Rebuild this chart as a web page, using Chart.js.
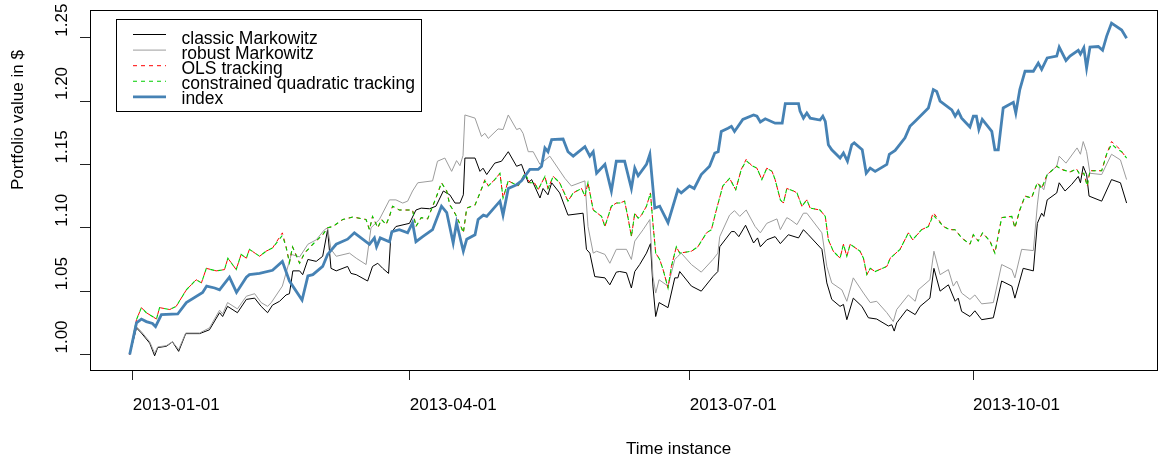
<!DOCTYPE html>
<html><head><meta charset="utf-8">
<script src="https://cdn.jsdelivr.net/npm/chart.js@4.4.1/dist/chart.umd.min.js"></script>
<style>html,body{margin:0;padding:0;background:#fff;}canvas{display:block;}</style>
</head><body>
<canvas id="c" width="1159" height="457"></canvas>
<script>
// ---- axis ticks / labels ----
const tickDays = [0, 90, 181, 273];               // days since 2013-01-01
const tickLabels = ['2013-01-01', '2013-04-01', '2013-07-01', '2013-10-01'];
const yTickValues = [1.00, 1.05, 1.10, 1.15, 1.20, 1.25];
const yTickLabels = ['1.00', '1.05', '1.10', '1.15', '1.20', '1.25'];
const xTitle = 'Time instance';
const yTitle = 'Portfolio value in $';
const seriesNames = ['classic Markowitz', 'robust Markowitz', 'OLS tracking', 'constrained quadratic tracking', 'index'];

// ---- index (days since 2013-01-01) ----
const indexDays = [
 -1, 1.2, 2.8, 4.4, 6.4, 7.4, 9.3, 14.6, 17.4, 22.7,
 24.0, 26.6, 28.2, 31.4, 33.7, 36.9, 37.9, 41.2, 45.4, 48.6,
 50.9, 55.0, 56.9, 58.5, 61.7, 63.3, 66.1, 69.8, 72.0, 76.9,
 78.5, 79.2, 80.4, 83.4, 84.2, 86.6, 89.3, 90.9, 92.0, 94.2,
 97.4, 100.3, 102.0, 104.1, 105.2, 107.4, 108.5, 111.2, 112.2, 113.9,
 115.0, 119.3, 120.3, 122.0, 124.7, 126.3, 129.0, 131.7, 132.8, 133.9,
 134.9, 136.1, 139.8, 141.4, 143.1, 146.9, 148.5, 149.6, 150.7, 153.4,
 155.5, 157.1, 159.8, 162.0, 163.1, 164.2, 166.9, 168.0, 169.6, 171.2,
 173.9, 177.1, 178.2, 180.9, 182.4, 184.7, 187.4, 189.1, 190.2, 191.2,
 193.4, 194.5, 195.5, 198.2, 201.7, 202.8, 203.9, 205.5, 208.7, 211.0,
 212.0, 216.3, 216.8, 217.9, 219.0, 220.1, 223.3, 224.2, 225.0, 226.0,
 227.1, 229.8, 230.9, 232.2, 233.6, 234.4, 237.0, 238.3, 239.6, 241.2,
 245.0, 245.8, 247.7, 250.9, 252.5, 254.2, 258.5, 260.1, 261.2, 262.3,
 266.1, 267.2, 268.2, 269.3, 272.0, 273.1, 274.1, 274.9, 276.0, 279.1,
 280.1, 281.2, 282.8, 286.1, 286.9, 288.2, 289.9, 292.6, 294.2, 295.3,
 297.1, 300.2, 301.0, 303.2, 304.5, 307.2, 307.9, 309.0, 309.9, 311.0,
 313.7, 315.1, 316.4, 318.0, 321.3, 322.9
];
const indexValues = [
 1.000, 1.025, 1.028, 1.026, 1.0245, 1.022, 1.0315, 1.032, 1.041, 1.049,
 1.054, 1.0525, 1.051, 1.061, 1.049, 1.061, 1.063, 1.064, 1.0665, 1.0735,
 1.058, 1.043, 1.062, 1.063, 1.0695, 1.079, 1.087, 1.091, 1.096, 1.087,
 1.092, 1.085, 1.092, 1.089, 1.097, 1.0985, 1.096, 1.104, 1.089, 1.093,
 1.0985, 1.117, 1.112, 1.088, 1.104, 1.0815, 1.091, 1.0945, 1.1065, 1.110,
 1.109, 1.121, 1.110, 1.131, 1.134, 1.137, 1.146, 1.146, 1.1485, 1.163,
 1.160, 1.1695, 1.170, 1.160, 1.1565, 1.164, 1.1565, 1.160, 1.143, 1.150,
 1.129, 1.1525, 1.1525, 1.131, 1.147, 1.141, 1.150, 1.158, 1.1155, 1.117,
 1.104, 1.130, 1.1275, 1.133, 1.131, 1.142, 1.1485, 1.159, 1.160, 1.176,
 1.1785, 1.180, 1.176, 1.1855, 1.189, 1.188, 1.1835, 1.186, 1.1825, 1.1825,
 1.198, 1.198, 1.192, 1.1865, 1.1905, 1.1865, 1.185, 1.188, 1.184, 1.1655,
 1.1615, 1.155, 1.159, 1.1525, 1.1655, 1.167, 1.1615, 1.143, 1.147, 1.1445,
 1.150, 1.158, 1.161, 1.171, 1.180, 1.184, 1.1945, 1.209, 1.2075, 1.200,
 1.193, 1.188, 1.192, 1.1865, 1.1795, 1.188, 1.188, 1.1775, 1.1855, 1.176,
 1.1615, 1.1615, 1.1945, 1.199, 1.1905, 1.209, 1.2235, 1.2235, 1.230, 1.225,
 1.234, 1.2355, 1.2425, 1.232, 1.2355, 1.240, 1.237, 1.242, 1.226, 1.2425,
 1.243, 1.240, 1.251, 1.2615, 1.256, 1.2495
];

// ---- classic Markowitz ----
const classicDays = [
 -1, 1.2, 2.8, 5.5, 7.1, 8.1, 10.9, 12.9, 14.9, 17.2,
 21.7, 24.9, 28.2, 29.2, 30.8, 34.0, 36.9, 39.6, 41.7, 43.8,
 45.4, 47.7, 49.8, 50.9, 52.0, 54.2, 55.2, 56.9, 59.6, 61.7,
 63.3, 64.4, 66.1, 69.8, 70.9, 72.6, 76.3, 77.9, 79.6, 81.2,
 83.1, 83.9, 85.5, 89.9, 92.0, 93.7, 96.4, 98.5, 100.9, 103.0,
 104.7, 106.3, 107.4, 107.9, 111.2, 112.8, 113.8, 115.0, 117.6, 119.8,
 122.0, 124.7, 126.3, 128.5, 129.6, 132.3, 133.3, 134.9, 136.1, 138.7,
 141.4, 146.3, 147.4, 148.5, 150.1, 153.4, 155.0, 157.1, 158.2, 160.4,
 162.0, 163.1, 164.7, 166.9, 168.2, 169.0, 169.9, 171.0, 173.9, 176.1,
 177.1, 177.7, 181.5, 184.7, 188.5, 190.1, 190.7, 194.5, 195.5, 196.9,
 199.1, 201.7, 203.0, 203.9, 206.0, 208.7, 210.4, 213.0, 216.3, 217.9,
 219.5, 223.9, 225.5, 227.1, 229.8, 230.9, 232.0, 234.1, 236.9, 239.0,
 241.7, 245.5, 246.6, 247.4, 248.2, 251.5, 254.2, 255.8, 259.0, 260.3,
 262.3, 265.0, 267.2, 268.2, 269.3, 272.0, 273.6, 275.8, 279.6, 282.3,
 285.6, 286.6, 289.3, 292.6, 293.9, 295.3, 296.0, 297.1, 300.2, 301.0,
 302.9, 305.0, 307.2, 307.9, 308.8, 309.9, 310.7, 314.8, 318.0, 320.9,
 322.9
];
const classicValues = [
 1.000, 1.021, 1.017, 1.009, 0.999, 1.0055, 1.0065, 1.010, 1.0025, 1.0165,
 1.0165, 1.0195, 1.033, 1.030, 1.038, 1.033, 1.0435, 1.0445, 1.038, 1.033,
 1.039, 1.042, 1.047, 1.048, 1.066, 1.066, 1.063, 1.075, 1.0735, 1.0775,
 1.0985, 1.068, 1.066, 1.0695, 1.064, 1.063, 1.058, 1.0695, 1.072, 1.068,
 1.064, 1.096, 1.101, 1.1035, 1.114, 1.1155, 1.115, 1.117, 1.129, 1.126,
 1.1195, 1.1195, 1.126, 1.155, 1.155, 1.1445, 1.147, 1.142, 1.151, 1.1525,
 1.160, 1.1485, 1.150, 1.1355, 1.138, 1.1235, 1.131, 1.126, 1.1355, 1.1275,
 1.110, 1.1115, 1.083, 1.080, 1.0615, 1.0605, 1.055, 1.065, 1.0655, 1.0645,
 1.0525, 1.0655, 1.071, 1.080, 1.0875, 1.054, 1.030, 1.041, 1.037, 1.0605,
 1.0605, 1.0655, 1.054, 1.050, 1.0615, 1.0655, 1.085, 1.097, 1.097, 1.093,
 1.102, 1.088, 1.092, 1.085, 1.0905, 1.093, 1.0875, 1.0945, 1.092, 1.0985,
 1.0945, 1.083, 1.0565, 1.0435, 1.038, 1.0395, 1.0275, 1.0445, 1.038, 1.029,
 1.028, 1.0225, 1.0235, 1.0185, 1.025, 1.0355, 1.0315, 1.038, 1.0445, 1.068,
 1.050, 1.055, 1.042, 1.0445, 1.034, 1.030, 1.0345, 1.0275, 1.029, 1.058,
 1.054, 1.0445, 1.068, 1.066, 1.1035, 1.1115, 1.109, 1.122, 1.1275, 1.1355,
 1.129, 1.134, 1.1405, 1.1355, 1.1485, 1.142, 1.125, 1.121, 1.138, 1.1355,
 1.1195
];

// ---- robust Markowitz ----
const robustDays = [
 -1, 1.2, 2.8, 5.5, 7.1, 8.1, 10.9, 12.9, 14.9, 17.2,
 21.7, 24.9, 28.2, 29.2, 30.8, 34.0, 36.9, 39.6, 41.7, 43.8,
 45.0, 48.6, 51.5, 54.2, 56.9, 59.6, 62.3, 63.3, 64.4, 66.1,
 70.4, 72.6, 75.8, 77.4, 80.1, 83.4, 85.5, 87.7, 89.3, 90.9,
 92.6, 97.4, 99.0, 101.4, 103.6, 105.2, 106.3, 107.3, 107.9, 111.2,
 113.3, 114.4, 115.5, 118.7, 120.3, 122.0, 124.7, 125.8, 126.8, 128.5,
 130.1, 132.3, 135.5, 140.4, 142.5, 146.9, 147.9, 149.6, 150.7, 153.4,
 155.0, 157.1, 160.4, 162.0, 163.1, 165.8, 168.0, 169.0, 169.9, 171.0,
 173.9, 176.1, 177.1, 178.2, 181.5, 184.7, 188.5, 190.1, 190.7, 193.9,
 195.5, 197.2, 199.3, 202.2, 203.9, 206.0, 209.3, 210.4, 212.5, 213.6,
 215.8, 217.9, 219.0, 223.9, 225.5, 227.1, 230.4, 232.0, 234.1, 237.4,
 239.6, 241.7, 245.0, 247.1, 248.2, 252.0, 254.2, 255.2, 259.0, 260.3,
 262.3, 265.0, 266.6, 267.7, 269.3, 272.0, 273.6, 275.8, 279.6, 282.3,
 285.6, 286.6, 288.8, 292.6, 293.9, 294.7, 296.0, 297.1, 300.2, 301.0,
 303.2, 306.8, 307.9, 308.8, 309.9, 311.0, 314.8, 318.0, 320.9, 322.9
];
const robustValues = [
 1.000, 1.022, 1.018, 1.010, 1.001, 1.006, 1.007, 1.010, 1.004, 1.017,
 1.017, 1.021, 1.035, 1.032, 1.041, 1.036, 1.046, 1.048, 1.041, 1.038,
 1.041, 1.054, 1.079, 1.077, 1.087, 1.0905, 1.0985, 1.100, 1.083, 1.0775,
 1.080, 1.076, 1.071, 1.100, 1.1065, 1.122, 1.122, 1.1195, 1.121, 1.129,
 1.1355, 1.137, 1.1525, 1.155, 1.1445, 1.153, 1.149, 1.157, 1.189, 1.1865,
 1.172, 1.1745, 1.1705, 1.178, 1.1775, 1.189, 1.1775, 1.1785, 1.1745, 1.160,
 1.160, 1.150, 1.1565, 1.139, 1.133, 1.137, 1.101, 1.080, 1.0815, 1.079,
 1.072, 1.083, 1.083, 1.075, 1.0895, 1.0985, 1.1065, 1.0615, 1.0485, 1.059,
 1.054, 1.075, 1.0775, 1.080, 1.071, 1.065, 1.075, 1.080, 1.093, 1.110,
 1.1135, 1.109, 1.114, 1.101, 1.096, 1.1035, 1.107, 1.0985, 1.108, 1.1065,
 1.1025, 1.1115, 1.1115, 1.096, 1.0695, 1.0565, 1.051, 1.042, 1.0605, 1.0485,
 1.041, 1.042, 1.033, 1.026, 1.0355, 1.047, 1.042, 1.051, 1.059, 1.0815,
 1.063, 1.067, 1.054, 1.058, 1.0485, 1.0435, 1.047, 1.040, 1.041, 1.071,
 1.067, 1.0605, 1.083, 1.082, 1.118, 1.134, 1.130, 1.142, 1.1485, 1.1565,
 1.151, 1.163, 1.158, 1.168, 1.160, 1.143, 1.142, 1.158, 1.1535, 1.138
];

// ---- OLS tracking / constrained quadratic tracking (same dates) ----
const trackDays = [
 -1, 1.2, 2.8, 4.4, 6.4, 7.7, 8.7, 12.0, 14.1, 17.4,
 20.6, 22.3, 23.9, 27.1, 29.8, 30.9, 33.6, 35.2, 36.9, 37.9,
 41.2, 43.3, 45.4, 48.6, 49.8, 50.9, 51.9, 54.2, 55.8, 58.5,
 61.7, 63.3, 65.0, 68.2, 71.5, 75.8, 76.9, 77.9, 79.6, 80.8,
 82.3, 83.4, 84.4, 86.6, 90.9, 92.0, 93.7, 95.8, 98.5, 100.3,
 102.0, 103.0, 104.1, 105.2, 106.8, 107.4, 108.5, 111.2, 112.8, 114.4,
 115.5, 117.6, 119.3, 120.3, 122.0, 125.2, 127.4, 129.0, 130.5, 131.7,
 133.9, 134.9, 136.6, 138.7, 141.4, 143.1, 145.8, 146.9, 147.9, 149.6,
 152.3, 153.4, 155.5, 157.1, 158.2, 159.8, 160.9, 162.0, 163.1, 164.2,
 165.3, 166.9, 168.2, 169.0, 169.9, 171.2, 172.3, 173.9, 175.0, 176.6,
 177.7, 181.5, 183.6, 186.4, 188.0, 189.6, 191.7, 193.9, 195.9, 197.7,
 199.3, 201.1, 202.8, 204.4, 206.0, 207.7, 208.7, 210.4, 211.4, 212.5,
 214.7, 215.8, 217.4, 219.0, 220.1, 223.3, 225.0, 226.0, 227.6, 229.8,
 230.9, 232.0, 233.1, 236.3, 237.4, 238.5, 239.6, 241.2, 245.0, 246.1,
 249.3, 252.0, 253.4, 256.3, 258.5, 260.1, 263.4, 265.5, 267.2, 269.3,
 272.0, 273.1, 274.7, 276.1, 278.5, 280.1, 282.3, 285.6, 286.6, 288.2,
 289.9, 292.0, 293.9, 295.3, 297.1, 300.2, 301.8, 304.5, 306.6, 307.7,
 309.0, 310.1, 311.0, 314.8, 316.4, 318.0, 319.9, 321.3, 322.9
];
const olsValues = [
 1.000, 1.0275, 1.037, 1.033, 1.030, 1.028, 1.037, 1.0355, 1.038, 1.051,
 1.059, 1.0565, 1.068, 1.066, 1.067, 1.076, 1.067, 1.079, 1.076, 1.083,
 1.0775, 1.0815, 1.084, 1.096, 1.085, 1.0725, 1.085, 1.072, 1.080, 1.087,
 1.0945, 1.100, 1.101, 1.1065, 1.1085, 1.1065, 1.0985, 1.109, 1.100, 1.1065,
 1.1025, 1.109, 1.117, 1.114, 1.114, 1.101, 1.108, 1.107, 1.1235, 1.1355,
 1.129, 1.118, 1.114, 1.109, 1.100, 1.096, 1.1155, 1.118, 1.1275, 1.138,
 1.133, 1.138, 1.143, 1.1235, 1.137, 1.133, 1.143, 1.1355, 1.1355, 1.130,
 1.1405, 1.131, 1.1405, 1.1355, 1.121, 1.1275, 1.131, 1.125, 1.1355, 1.114,
 1.109, 1.101, 1.117, 1.1195, 1.1195, 1.121, 1.108, 1.093, 1.1115, 1.1075,
 1.110, 1.117, 1.1275, 1.1035, 1.080, 1.075, 1.067, 1.0525, 1.0695, 1.085,
 1.080, 1.0815, 1.085, 1.096, 1.0985, 1.114, 1.133, 1.139, 1.130, 1.146,
 1.154, 1.149, 1.147, 1.138, 1.147, 1.1445, 1.138, 1.122, 1.1195, 1.131,
 1.129, 1.1275, 1.117, 1.122, 1.1155, 1.114, 1.109, 1.0905, 1.0815, 1.076,
 1.087, 1.0775, 1.087, 1.0815, 1.076, 1.063, 1.068, 1.0655, 1.0695, 1.076,
 1.083, 1.096, 1.0905, 1.0985, 1.101, 1.112, 1.101, 1.0985, 1.0985, 1.092,
 1.087, 1.0945, 1.0895, 1.096, 1.0895, 1.080, 1.108, 1.109, 1.100, 1.114,
 1.125, 1.1235, 1.1355, 1.131, 1.142, 1.1485, 1.146, 1.144, 1.1465, 1.142,
 1.143, 1.133, 1.145, 1.145, 1.158, 1.168, 1.164, 1.160, 1.155
];
const cqtValues = [
 1.000, 1.0275, 1.037, 1.033, 1.030, 1.028, 1.037, 1.0355, 1.038, 1.051,
 1.059, 1.0565, 1.068, 1.066, 1.067, 1.076, 1.067, 1.079, 1.076, 1.083,
 1.0775, 1.0815, 1.084, 1.094, 1.085, 1.0725, 1.085, 1.072, 1.080, 1.087,
 1.0945, 1.100, 1.101, 1.1065, 1.1085, 1.1065, 1.0985, 1.109, 1.100, 1.1065,
 1.1025, 1.109, 1.117, 1.114, 1.114, 1.101, 1.108, 1.107, 1.1235, 1.1355,
 1.129, 1.118, 1.114, 1.109, 1.100, 1.096, 1.1155, 1.118, 1.1275, 1.137,
 1.133, 1.138, 1.143, 1.1235, 1.137, 1.133, 1.143, 1.1355, 1.1355, 1.130,
 1.1405, 1.131, 1.1405, 1.1355, 1.121, 1.1275, 1.131, 1.125, 1.1355, 1.114,
 1.109, 1.101, 1.117, 1.1195, 1.1195, 1.121, 1.108, 1.093, 1.1115, 1.1075,
 1.110, 1.117, 1.1275, 1.1035, 1.080, 1.075, 1.067, 1.0525, 1.0695, 1.085,
 1.080, 1.0815, 1.085, 1.096, 1.0985, 1.114, 1.133, 1.139, 1.130, 1.146,
 1.153, 1.149, 1.147, 1.138, 1.147, 1.1445, 1.138, 1.122, 1.1195, 1.131,
 1.129, 1.1275, 1.117, 1.122, 1.1155, 1.114, 1.109, 1.0905, 1.0815, 1.076,
 1.087, 1.0775, 1.087, 1.0815, 1.076, 1.063, 1.068, 1.0655, 1.0695, 1.076,
 1.083, 1.096, 1.0905, 1.0985, 1.101, 1.110, 1.101, 1.0985, 1.0985, 1.092,
 1.087, 1.0945, 1.0895, 1.096, 1.0895, 1.080, 1.108, 1.109, 1.100, 1.114,
 1.125, 1.1235, 1.1355, 1.131, 1.142, 1.1485, 1.146, 1.144, 1.1465, 1.142,
 1.143, 1.133, 1.145, 1.145, 1.158, 1.166, 1.162, 1.160, 1.155
];

const FONT = "'Liberation Sans', Arial, Helvetica, sans-serif";
function pts(days, vals) { return days.map((d, i) => ({ x: d, y: vals[i] })); }

const rDecor = {
  id: 'rDecor',
  afterDraw(chart) {
    const { ctx, chartArea: a, scales } = chart;
    const ys = scales.y;
    ctx.save();
    ctx.setLineDash([]);
    ctx.strokeStyle = '#000';
    ctx.lineWidth = 1;
    ctx.strokeRect(a.left + 0.5, a.top + 0.5, a.right - a.left - 1, a.bottom - a.top);

    ctx.fillStyle = '#000';
    ctx.font = '17px ' + FONT;
    ctx.textAlign = 'left';
    ctx.textBaseline = 'alphabetic';
    yTickValues.forEach((v, i) => {
      const py = ys.getPixelForValue(v);
      ctx.save();
      ctx.translate(a.left - 23, py - 1);
      ctx.rotate(-Math.PI / 2);
      ctx.fillText(yTickLabels[i], 0, 0);
      ctx.restore();
    });
    ctx.save();
    ctx.translate(23, (a.top + a.bottom) / 2);
    ctx.rotate(-Math.PI / 2);
    ctx.fillText(yTitle, 0, 0);
    ctx.restore();
    ctx.fillText(xTitle, (a.left + a.right) / 2 + 2, 453.5);

    // legend box (R style)
    const bx = 116.5, by = 19.5, bw = 305, bh = 92;
    ctx.fillStyle = '#fff';
    ctx.fillRect(bx, by, bw, bh);
    ctx.strokeStyle = '#000';
    ctx.lineWidth = 1;
    ctx.strokeRect(bx, by, bw, bh);
    chart.data.datasets.forEach((ds, i) => {
      const ly = 34.5 + 15.6 * i;
      ctx.strokeStyle = ds.borderColor;
      ctx.lineWidth = ds.borderWidth;
      ctx.setLineDash(ds.borderDash || []);
      ctx.lineDashOffset = 0;
      ctx.beginPath();
      ctx.moveTo(133, ly);
      ctx.lineTo(166, ly);
      ctx.stroke();
      ctx.setLineDash([]);
      ctx.fillStyle = '#000';
      ctx.font = '17.5px ' + FONT;
      ctx.fillText(ds.label, 181.5, 44 + 15.1 * i);
    });
    ctx.restore();
  }
};

new Chart(document.getElementById('c'), {
  type: 'line',
  data: {
    datasets: [
      { label: seriesNames[0], data: pts(classicDays, classicValues), borderColor: '#000000', borderWidth: 1, order: 4 },
      { label: seriesNames[1], data: pts(robustDays, robustValues), borderColor: '#9c9c9c', borderWidth: 1, order: 3 },
      { label: seriesNames[2], data: pts(trackDays, olsValues), borderColor: '#ff0000', borderWidth: 1, borderDash: [4, 4], order: 2 },
      { label: seriesNames[3], data: pts(trackDays, cqtValues), borderColor: '#00cd00', borderWidth: 1.1, borderDash: [4, 4], borderDashOffset: 4, order: 1 },
      { label: seriesNames[4], data: pts(indexDays, indexValues), borderColor: '#4682b4', borderWidth: 2.8, order: 0 }
    ]
  },
  options: {
    responsive: false,
    animation: false,
    devicePixelRatio: 1,
    layout: { padding: { top: 10, right: 1, left: 0, bottom: 0 } },
    elements: { point: { radius: 0 }, line: { tension: 0, fill: false } },
    plugins: { legend: { display: false }, tooltip: { enabled: false }, title: { display: false } },
    scales: {
      x: {
        type: 'linear', min: -13.9, max: 333.1,
        afterFit(s) { s.height = 87; },
        afterBuildTicks(s) { s.ticks = tickDays.map(v => ({ value: v })); },
        ticks: {
          autoSkip: false, maxRotation: 0, minRotation: 0, align: 'start', padding: 15,
          color: '#000', font: { family: FONT, size: 17 },
          callback: (v) => { const k = tickDays.indexOf(v); return k >= 0 ? tickLabels[k] : ''; }
        },
        grid: { display: true, drawOnChartArea: false, drawTicks: true, tickLength: 10, color: '#222', lineWidth: 1 },
        border: { display: false }
      },
      y: {
        type: 'linear', min: 0.9878, max: 1.2718,
        afterFit(s) { s.width = 90; },
        afterBuildTicks(s) { s.ticks = yTickValues.map(v => ({ value: v })); },
        ticks: { display: false },
        grid: { display: true, drawOnChartArea: false, drawTicks: true, tickLength: 10, color: '#222', lineWidth: 1 },
        border: { display: false }
      }
    }
  },
  plugins: [rDecor]
});
</script>
</body></html>
